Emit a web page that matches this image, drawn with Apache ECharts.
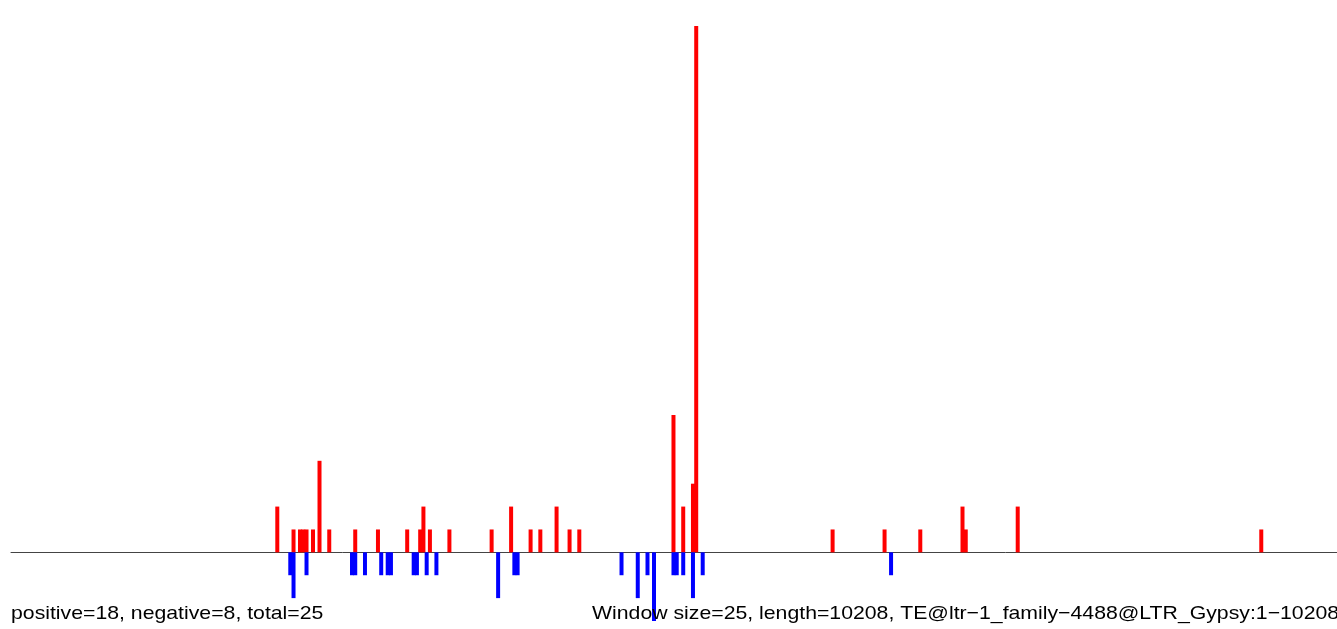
<!DOCTYPE html>
<html>
<head>
<meta charset="utf-8">
<script src="https://cdn.jsdelivr.net/npm/echarts@6/dist/echarts.min.js"></script>
<style>
html,body{margin:0;padding:0;background:#fff;}
#chart{width:1337px;height:629px;}
</style>
</head>
<body>
<div id="chart"></div>
<script>
// window index (window size = 25 bp) and read counts
const posBins   = [82, 87, 89, 90, 91, 93, 95, 98, 106, 113, 122, 126, 127, 129, 135, 148, 154, 160, 163, 168, 172, 175, 204, 207, 210, 211, 253, 269, 280, 293, 294, 310, 385];
const posValues = [ 2,  1,  1,  1,  1,  1,  4,  1,   1,   1,   1,   1,   2,   1,   1,   1,   2,   1,   1,   2,   1,   1,   6,   2,   3,  23,   1,   1,   1,   2,   1,   2,   1];
const negBins   = [86, 87, 91, 105, 106, 109, 114, 116, 117, 124, 125, 128, 131, 150, 155, 156, 188, 193, 196, 198, 204, 205, 207, 210, 213, 271];
const negValues = [-1, -2, -1,  -1,  -1,  -1,  -1,  -1,  -1,  -1,  -1,  -1,  -1,  -2,  -1,  -1,  -1,  -2,  -1,  -3,  -1,  -1,  -1,  -2,  -1,  -1];
const seqLength = 10208;
const windowSize = 25;
const leftText = 'positive=18, negative=8, total=25';
const rightText = 'Window size=25, length=10208, TE@ltr\u22121_family\u22124488@LTR_Gypsy:1\u221210208';

const posData = posBins.map((b, i) => [b, posValues[i]]);
const negData = negBins.map((b, i) => [b, negValues[i]]);

const chart = echarts.init(document.getElementById('chart'), null, {renderer: 'canvas'});
chart.setOption({
  animation: false,
  backgroundColor: '#ffffff',
  grid: {left: 11, width: 1326, top: 26, height: 595},
  xAxis: {
    type: 'value',
    min: 0,
    max: seqLength / windowSize,
    axisLine: {show: true, onZero: true, lineStyle: {color: '#444444', width: 1}},
    axisTick: {show: false},
    axisLabel: {show: false},
    splitLine: {show: false}
  },
  yAxis: {
    type: 'value',
    min: -3,
    max: 23,
    show: false,
    splitLine: {show: false}
  },
  series: [
    {
      type: 'bar',
      stack: 'reads',
      data: posData,
      barWidth: 4,
      itemStyle: {color: '#ff0000'}
    },
    {
      type: 'bar',
      stack: 'reads',
      data: negData,
      barWidth: 4,
      itemStyle: {color: '#0000ff'}
    }
  ],
  graphic: [
    {
      type: 'text', x: 11, y: 604, scaleX: 1.118, originX: 0, originY: 0, z: 100,
      style: {text: leftText, fill: '#000', font: '19px "Liberation Sans", Arial, sans-serif', textVerticalAlign: 'top'}
    },
    {
      type: 'text', x: 592, y: 604, scaleX: 1.118, originX: 0, originY: 0, z: 100,
      style: {text: rightText, fill: '#000', font: '19px "Liberation Sans", Arial, sans-serif', textVerticalAlign: 'top'}
    }
  ]
});
</script>
</body>
</html>
